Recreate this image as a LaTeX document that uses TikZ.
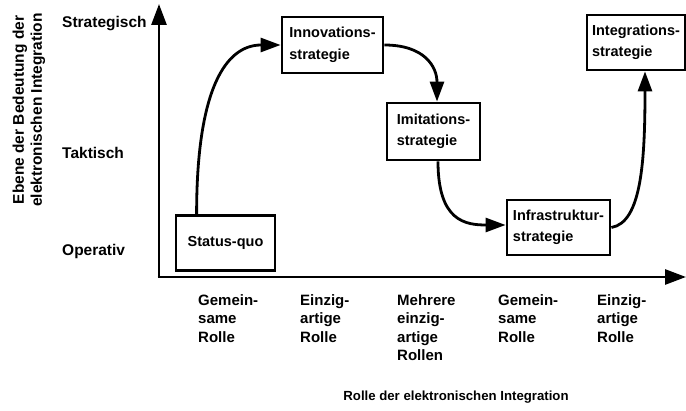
\documentclass[tikz,border=0pt]{standalone}
\usepackage{fontspec}
\setmainfont{Liberation Sans}
\usetikzlibrary{arrows.meta}
\begin{document}
\begin{tikzpicture}[x=1pt,y=-1pt,
  lbl/.style={font=\fontsize{15}{18.5}\selectfont\bfseries, inner sep=0pt},
  box/.style={draw, line width=2.8pt, align=left, font=\fontsize{14.5}{21.5}\selectfont\bfseries, inner sep=0pt},
  conn/.style={line width=2.8pt, -{Triangle[length=20pt,width=14pt]}},
  ax/.style={line width=2.8pt, -{Triangle[length=21pt,width=15pt]}}
]
\useasboundingbox (0,0) rectangle (686,411);
% axes
\coordinate (o) at (159,277);
\coordinate (ytip) at (159,4);
\coordinate (xtip) at (686,277);
\draw[ax] ([yshift=1.4pt]o) -- (ytip);
\draw[ax] ([xshift=-1.4pt]o) -- (xtip);
% y labels
\node[lbl, anchor=west, font=\fontsize{15.5}{18}\selectfont\bfseries] (s) at (62,24) {Strategisch};
\node[lbl, anchor=west, font=\fontsize{15.5}{18}\selectfont\bfseries] (t) at (62,153) {Taktisch};
\node[lbl, anchor=west, font=\fontsize{15.5}{18}\selectfont\bfseries] (op) at (62,251) {Operativ};
\node[lbl, rotate=90, align=center, font=\fontsize{15.5}{18}\selectfont\bfseries] (yl) at (29,110) {Ebene der Bedeutung der\\elektronischen Integration};
% boxes
\node[box, minimum width=99pt, minimum height=55pt] (sq) at (225.5,243) {Status-quo};
\node[box, minimum width=101pt, minimum height=56pt] (inn) at (332.5,45) {Innovations-\\strategie};
\node[box, minimum width=93pt, minimum height=57pt] (imi) at (433.5,131.5) {Imitations-\\strategie};
\node[box, minimum width=103pt, minimum height=55pt] (inf) at (558.5,227.5) {Infrastruktur-\\strategie};
\node[box, minimum width=98pt, minimum height=55pt] (int) at (636,42.5) {Integrations-\\strategie};
% connectors
\draw[conn] ([xshift=22pt]sq.north west) .. controls +(0,-125) and +(-55,0) .. (inn.west);
\draw[conn] (inn.east) .. controls +(40,0) and +(0,-35) .. ([xshift=3.5pt]imi.north);
\draw[conn] ([xshift=4.5pt]imi.south) .. controls +(0,60) and +(-40,0) .. ([yshift=2.5pt]inf.west);
\draw[conn] (inf.east) .. controls +(30,-5) and +(0,90) .. ([xshift=9pt]int.south);
% x labels
\node[lbl, anchor=north west, align=left] (c1) at (198,294) {Gemein-\\same\\Rolle};
\node[lbl, anchor=north west, align=left] (c2) at (300,294) {Einzig-\\artige\\Rolle};
\node[lbl, anchor=north west, align=left] (c3) at (397,294) {Mehrere\\einzig-\\artige\\Rollen};
\node[lbl, anchor=north west, align=left] (c4) at (498,294) {Gemein-\\same\\Rolle};
\node[lbl, anchor=north west, align=left] (c5) at (597,294) {Einzig-\\artige\\Rolle};
\node[lbl, font=\fontsize{13.2}{16}\selectfont\bfseries] (xl) at (456,397) {Rolle der elektronischen Integration};
\end{tikzpicture}
\end{document}
